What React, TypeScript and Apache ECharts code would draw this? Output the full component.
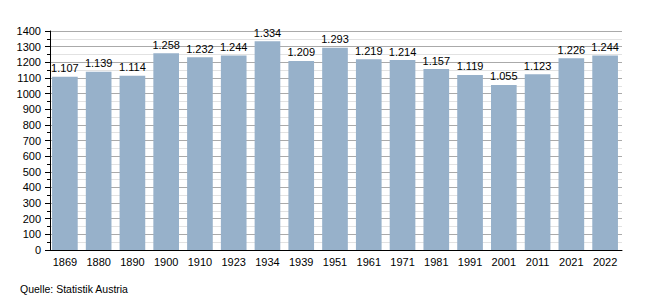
import React, { useEffect, useRef } from "react";
import * as echarts from "echarts";

const categories = ["1869", "1880", "1890", "1900", "1910", "1923", "1934", "1939", "1951", "1961", "1971", "1981", "1991", "2001", "2011", "2021", "2022"];
const values = [1107, 1139, 1114, 1258, 1232, 1244, 1334, 1209, 1293, 1219, 1214, 1157, 1119, 1055, 1123, 1226, 1244];
const sourceText = "Quelle: Statistik Austria";

const fmt = (v: number) => String(v).replace(/\B(?=(\d{3})+(?!\d))/g, ".");

export default function App() {
  const ref = useRef<HTMLDivElement>(null);
  useEffect(() => {
    const chart = echarts.init(ref.current!, null, { renderer: "svg" });
    const font = "Liberation Sans, Arial, sans-serif";
    chart.setOption({
      animation: false,
      textStyle: { fontFamily: font },
      grid: { left: 48, right: 28, top: 31, bottom: 50 },
      xAxis: {
        type: "category",
        data: categories,
        axisLine: { show: true, lineStyle: { color: "#000", width: 1 } },
        axisTick: { show: false },
        axisLabel: { color: "#000", fontSize: 11, margin: 6, fontFamily: font },
      },
      yAxis: {
        type: "value",
        min: 0,
        max: 1400,
        interval: 100,
        offset: -2,
        axisLine: { show: true, lineStyle: { color: "#000", width: 1 } },
        axisTick: { show: true, length: 5, lineStyle: { color: "#000" } },
        minorTick: { show: true, splitNumber: 2, length: 3, lineStyle: { color: "#000" } },
        axisLabel: { color: "#000", fontSize: 11, margin: 9, fontFamily: font, formatter: (v: number) => String(v) },
        splitLine: { show: true, lineStyle: { color: "#aaaaaa", width: 1 } },
        minorSplitLine: { show: true, lineStyle: { color: "#e2e2e2", width: 1 } },
      },
      series: [
        {
          type: "bar",
          data: values,
          barCategoryGap: "24%",
          itemStyle: { color: "#97b1ca" },
          label: {
            show: true,
            position: "top",
            distance: 3,
            color: "#000",
            fontSize: 11,
            fontFamily: font,
            formatter: (p: any) => fmt(p.value),
          },
        },
      ],
      graphic: [
        {
          type: "text",
          left: 20,
          top: 283,
          style: { text: sourceText, fontSize: 10.5, fill: "#000", fontFamily: font },
        },
      ],
    });
    return () => chart.dispose();
  }, []);
  return <div ref={ref} style={{ position: "fixed", left: 0, top: 0, width: 650, height: 300, background: "#fff" }} />;
}
